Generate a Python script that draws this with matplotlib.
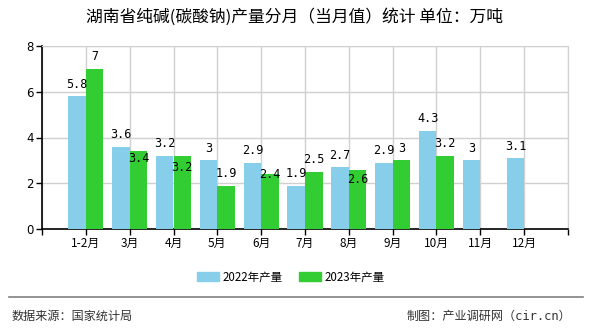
import matplotlib
matplotlib.use("Agg")
import matplotlib.pyplot as plt
from matplotlib.patches import Patch
from matplotlib.lines import Line2D

plt.rcParams['font.family'] = ['Noto Sans CJK SC', 'DejaVu Sans']

title = "湖南省纯碱(碳酸钠)产量分月（当月值）统计 单位：万吨"
months = ["1-2月", "3月", "4月", "5月", "6月", "7月", "8月", "9月", "10月", "11月", "12月"]
prod_2022 = [5.8, 3.6, 3.2, 3, 2.9, 1.9, 2.7, 2.9, 4.3, 3, 3.1]
prod_2023 = [7, 3.4, 3.2, 1.9, 2.4, 2.5, 2.6, 3, 3.2]
series_names = ["2022年产量", "2023年产量"]
source_text = "数据来源：国家统计局"
credit_text = "制图：产业调研网（cir.cn）"

c22 = "#87CEEB"
c23 = "#32CD32"

fig = plt.figure(figsize=(5.9, 3.3), dpi=100)
ax = fig.add_axes([42 / 590, 1 - 229 / 330, 526 / 590, 183 / 330])

bw = 0.4
x22 = list(range(len(prod_2022)))
x23 = list(range(len(prod_2023)))
ax.bar([x - bw for x in x22], prod_2022, width=bw, align='edge', color=c22, zorder=3)
ax.bar(x23, prod_2023, width=bw, align='edge', color=c23, zorder=3)

ax.set_xlim(-1, len(months))
ax.set_ylim(0, 8)
ax.set_yticks([0, 2, 4, 6, 8])
ax.set_xticks(range(-1, len(months) + 1))
ax.set_xticklabels([""] + months + [""], fontsize=8.5)
ax.tick_params(axis='both', direction='out', length=4, width=1, colors='black', labelsize=8.5, pad=2)
for lbl in ax.get_yticklabels():
    lbl.set_family('DejaVu Sans')

ax.grid(True, color="#d0d0d0", linewidth=1, zorder=0)
ax.set_axisbelow(True)
for s in ["top", "right"]:
    ax.spines[s].set_color("#d0d0d0")
for s in ["left", "bottom"]:
    ax.spines[s].set_color("black")
    ax.spines[s].set_linewidth(1.2)

# value labels, px per unit of the y axis
ppu = 183 / 8
gap = 12  # px above bar top to label centre
lbl_font = dict(fontsize=8.5, family=['DejaVu Sans Mono'], ha='center', va='center', zorder=5)
blue_pos = []
for x, v in zip(x22, prod_2022):
    yc = v + gap / ppu
    blue_pos.append(yc)
    ax.text(x - bw / 2, yc, f"{v:g}", **lbl_font)
for x, v in zip(x23, prod_2023):
    yc = v + gap / ppu
    b = prod_2022[x]
    if v <= b and abs(yc - blue_pos[x]) * ppu < 14:
        yc = blue_pos[x] - 24 / ppu
    ax.text(x + bw / 2, yc, f"{v:g}", **lbl_font)

fig.text(294 / 590, 1 - 17 / 330, title, ha='center', va='center', fontsize=12.1)

handles = [Patch(color=c22), Patch(color=c23)]
fig.legend(handles, series_names, loc='center', bbox_to_anchor=(291 / 590, 1 - 277 / 330),
           ncol=2, frameon=False, fontsize=8.3, handlelength=1.9, handleheight=0.78,
           handletextpad=0.35, columnspacing=1.4)

fig.add_artist(Line2D([9 / 590, 583 / 590], [1 - 297 / 330] * 2, color="#808080", linewidth=1.2))
fig.text(12 / 590, 1 - 316 / 330, source_text, ha='left', va='center', fontsize=8.7, color="#333333")
fig.text(571 / 590, 1 - 316 / 330, credit_text, ha='right', va='center', fontsize=8.7, color="#333333",
         family=['DejaVu Sans Mono', 'Noto Sans CJK SC'])

fig.savefig("out.png", dpi=100)
